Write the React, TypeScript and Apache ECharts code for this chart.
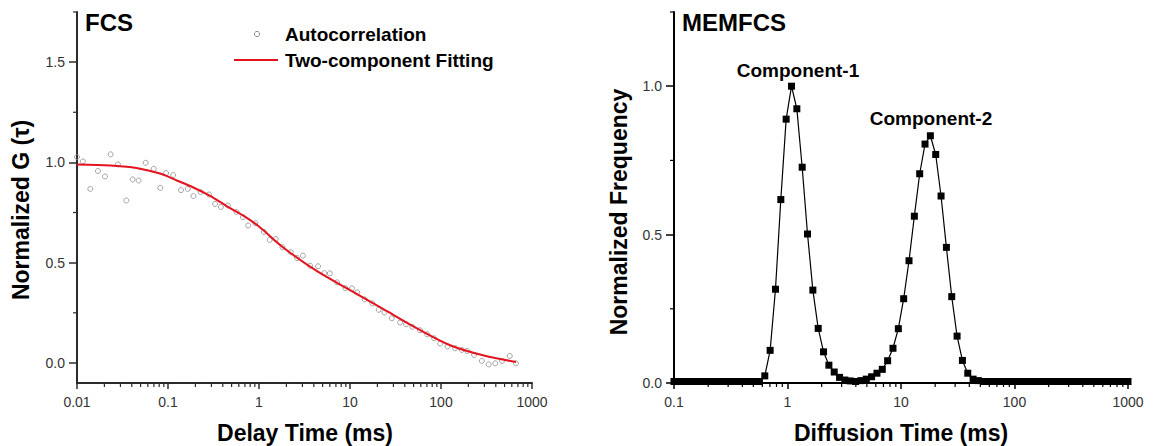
import React, { useEffect, useRef } from "react";
import * as echarts from "echarts";

// ---- FCS autocorrelation data (delay time ms, normalized G) ----
const fcsDelay = [
  0.01, 0.0116, 0.014, 0.017, 0.0203, 0.0234, 0.0282, 0.0348, 0.0409, 0.0476,
  0.0568, 0.0697, 0.0822, 0.0952, 0.114, 0.139, 0.165, 0.19, 0.228, 0.282,
  0.329, 0.381, 0.455, 0.564, 0.666, 0.76, 0.91, 1.13, 1.31, 1.53,
  1.81, 2.24, 2.62, 3.04, 3.64, 4.46, 5.23, 6.0, 7.2, 8.9,
  10.5, 12.0, 14.5, 17.6, 20.7, 23.9, 28.8, 35.5, 41.3, 48.4,
  58.7, 70.5, 84, 98, 118, 143, 169, 194, 231, 281,
  334, 395, 469, 570, 667,
];
const fcsG = [
  1.027, 1.005, 0.868, 0.957, 0.93, 1.04, 0.99, 0.81, 0.915, 0.91,
  0.998, 0.968, 0.873, 0.947, 0.937, 0.862, 0.868, 0.832, 0.852, 0.84,
  0.793, 0.778, 0.785, 0.753, 0.727, 0.685, 0.697, 0.653, 0.613, 0.618,
  0.577, 0.552, 0.523, 0.535, 0.485, 0.482, 0.448, 0.447, 0.402, 0.373,
  0.372, 0.352, 0.317, 0.297, 0.265, 0.252, 0.223, 0.202, 0.193, 0.18,
  0.163, 0.143, 0.123, 0.097, 0.082, 0.073, 0.065, 0.06, 0.04, 0.01,
  -0.007, -0.002, 0.01, 0.035, -0.002,
];

// ---- Two-component fitting curve ----
const fitDelay = [0.01, 0.0232, 0.038, 0.054, 0.085, 0.125, 0.19, 0.29, 0.45, 0.68, 1.0, 1.83, 4.26, 10, 23.3, 54.5, 126, 289, 667];
const fitG = [0.99, 0.985, 0.977, 0.965, 0.942, 0.91, 0.875, 0.833, 0.78, 0.733, 0.68, 0.577, 0.46, 0.363, 0.268, 0.172, 0.088, 0.038, 0.005];

// ---- MEMFCS distribution (diffusion time ms, normalized frequency) ----
const memTime = [
  0.1, 0.11144, 0.12419, 0.1384, 0.15424, 0.17189, 0.19155, 0.21347, 0.2379, 0.26511,
  0.29545, 0.32925, 0.36692, 0.4089, 0.45569, 0.50783, 0.56593, 0.63096, 0.70315, 0.78361,
  0.87327, 0.97328, 1.0846, 1.2087, 1.347, 1.5011, 1.6729, 1.8643, 2.0776, 2.3153,
  2.5803, 2.8755, 3.2045, 3.5711, 3.9811, 4.4366, 4.9443, 5.51, 6.1404, 6.843,
  7.626, 8.4985, 9.4723, 10.556, 11.764, 13.11, 14.61, 16.281, 18.144, 20.22,
  22.534, 25.119, 27.993, 31.196, 34.766, 38.744, 43.177, 48.117, 53.622, 59.757,
  66.595, 74.215, 82.706, 92.17, 102.72, 114.47, 127.57, 142.17, 158.49, 176.62,
  196.83, 219.35, 244.45, 272.42, 303.59, 338.33, 377.04, 420.18, 468.26, 521.84,
  581.55, 648.09, 722.24, 804.88, 896.98, 1000,
];
const memFreq = [
  0.005, 0.005, 0.005, 0.005, 0.005, 0.005, 0.005, 0.005, 0.005, 0.005,
  0.005, 0.005, 0.005, 0.005, 0.005, 0.005, 0.005, 0.024, 0.11, 0.316,
  0.618, 0.889, 1.0, 0.924, 0.727, 0.502, 0.313, 0.184, 0.105, 0.06,
  0.037, 0.019, 0.01, 0.007, 0.005, 0.008, 0.013, 0.021, 0.033, 0.046,
  0.075, 0.117, 0.183, 0.284, 0.412, 0.562, 0.705, 0.805, 0.833, 0.77,
  0.63, 0.457, 0.291, 0.158, 0.076, 0.033, 0.013, 0.008, 0.005, 0.005,
  0.005, 0.005, 0.005, 0.005, 0.005, 0.005, 0.005, 0.005, 0.005, 0.005,
  0.005, 0.005, 0.005, 0.005, 0.005, 0.005, 0.005, 0.005, 0.005, 0.005,
  0.005, 0.005, 0.005, 0.005, 0.005, 0.005,
];

// ---- tick labels ----
const fcsXTicks = [0.01, 0.1, 1, 10, 100, 1000];
const memXTicks = [0.1, 1, 10, 100, 1000];
const fcsYTicks = [0, 0.5, 1.0, 1.5];
const fcsYMinor = [0.25, 0.75, 1.25, 1.75];
const memYTicks = [0, 0.5, 1.0];
const memYMinor = [0.25, 0.75, 1.25];
const minorMult = [2, 3, 4, 5, 6, 7, 8, 9];

const FONT = 'Arial, "Liberation Sans", Helvetica, sans-serif';

function logMinor(majors: number[]) {
  const out: number[] = [];
  for (let i = 0; i < majors.length - 1; i++) {
    for (const m of minorMult) out.push(Number((majors[i] * m).toPrecision(3)));
  }
  return out;
}

const fmtLog = (v: number) => String(Number(Number(v).toPrecision(3)));
const fmtLin = (v: number) => Number(v).toFixed(1);

export default function App() {
  const ref = useRef<HTMLDivElement>(null);
  useEffect(() => {
    if (!ref.current) return;
    const chart = echarts.init(ref.current, undefined, { renderer: "svg" });

    const leftAxisColor = "#2b2b2b";
    const rightAxisColor = "#000";
    const labelStyle = { fontFamily: FONT, fontSize: 14, color: "#333" };

    const xAx = (gi: number, min: number, max: number, majors: number[], color: string) => ({
      type: "log", logBase: 10, gridIndex: gi, min, max,
      axisLine: { show: true, onZero: false, lineStyle: { color, width: 2 } },
      axisTick: { show: true, customValues: majors, length: 6, lineStyle: { color, width: 1.5 } },
      axisLabel: { show: true, customValues: majors, formatter: fmtLog, margin: 12, ...labelStyle },
      splitLine: { show: false },
    });
    const yAx = (gi: number, min: number, max: number, majors: number[], color: string) => ({
      type: "value", gridIndex: gi, min, max,
      axisLine: { show: true, onZero: false, lineStyle: { color, width: 2 } },
      axisTick: { show: true, customValues: majors, length: 8, lineStyle: { color, width: 1.5 } },
      axisLabel: { show: true, customValues: majors, formatter: fmtLin, margin: 12, ...labelStyle },
      splitLine: { show: false },
    });

    const txt = (text: string, x: number, y: number, size: number, align = "left", rotation = 0) => ({
      type: "text",
      x, y, rotation,
      style: {
        text, font: `bold ${size}px ${FONT}`, fill: "#000",
        align, textAlign: align, verticalAlign: "middle", textVerticalAlign: "middle",
      },
    });

    const baseGraphics: any[] = [
      txt("FCS", 85, 22, 24),
      txt("MEMFCS", 682, 22, 24),
      txt("Component-1", 798, 70, 19, "center"),
      txt("Component-2", 931, 118, 19, "center"),
      {
        type: "circle",
        shape: { cx: 257, cy: 34, r: 2.6 },
        style: { fill: "#fff", stroke: "#8c8c8c", lineWidth: 1 },
      },
      txt("Autocorrelation", 285, 34, 19),
      {
        type: "line",
        shape: { x1: 234, y1: 60, x2: 278, y2: 60 },
        style: { stroke: "#e3141e", lineWidth: 2 },
      },
      txt("Two-component Fitting", 285, 60, 19),
      txt("Delay Time (ms)", 305, 433, 23, "center"),
      txt("Diffusion Time (ms)", 901, 433, 23, "center"),
      txt("Normalized G (\u03C4)", 21, 210, 23, "center", Math.PI / 2),
      txt("Normalized Frequency", 619, 212, 23, "center", Math.PI / 2),
    ];

    chart.setOption({
      animation: false,
      backgroundColor: "#fff",
      grid: [
        { left: 77, top: 12, width: 455, height: 371 },
        { left: 674, top: 12, width: 454, height: 371 },
      ],
      xAxis: [xAx(0, 0.01, 1000, fcsXTicks, leftAxisColor), xAx(1, 0.1, 1000, memXTicks, rightAxisColor)],
      yAxis: [yAx(0, -0.1, 1.75, fcsYTicks, leftAxisColor), yAx(1, 0, 1.25, memYTicks, rightAxisColor)],
      series: [
        {
          name: "Autocorrelation",
          type: "scatter",
          xAxisIndex: 0, yAxisIndex: 0,
          symbol: "circle",
          symbolSize: 5,
          itemStyle: { color: "rgba(255,255,255,0)", borderColor: "#8c8c8c", borderWidth: 1 },
          data: fcsDelay.map((t, i) => [t, fcsG[i]]),
          z: 2,
        },
        {
          name: "Two-component Fitting",
          type: "line",
          xAxisIndex: 0, yAxisIndex: 0,
          smooth: 0.3,
          showSymbol: false,
          symbol: "none",
          lineStyle: { color: "#e3141e", width: 2 },
          data: fitDelay.map((t, i) => [t, fitG[i]]),
          z: 3,
        },
        {
          name: "MEMFCS",
          type: "line",
          xAxisIndex: 1, yAxisIndex: 1,
          symbol: "rect",
          symbolSize: 7,
          showAllSymbol: true,
          lineStyle: { color: "#000", width: 1.2 },
          itemStyle: { color: "#000" },
          data: memTime.map((t, i) => [t, memFreq[i]]),
          z: 3,
        },
      ],
      graphic: baseGraphics,
    });

    // minor ticks placed through the chart's own scales
    const minorGraphics: any[] = [];
    const seg = (x1: number, y1: number, x2: number, y2: number, color: string) =>
      minorGraphics.push({ type: "line", shape: { x1, y1, x2, y2 }, style: { stroke: color, lineWidth: 1.2 }, z: 10 });
    const drawMinor = (gi: number, xmin: number, ymin: number, xMaj: number[], yMin: number[], color: string) => {
      const p = (x: number, y: number) => chart.convertToPixel({ gridIndex: gi } as any, [x, y]) as number[];
      const [x0, yb] = p(xmin, ymin);
      logMinor(xMaj).forEach((v) => { const [x] = p(v, ymin); seg(x, yb, x, yb + 4, color); });
      yMin.forEach((v) => { const [, y] = p(xmin, v); seg(x0, y, x0 - 4, y, color); });
    };
    drawMinor(0, 0.01, -0.1, fcsXTicks, fcsYMinor, leftAxisColor);
    drawMinor(1, 0.1, 0, memXTicks, memYMinor, rightAxisColor);

    chart.setOption({ graphic: [...baseGraphics, ...minorGraphics] });

    return () => chart.dispose();
  }, []);
  return (
    <div
      ref={ref}
      style={{ position: "fixed", left: 0, top: 0, width: 1153, height: 446, background: "#fff" }}
    />
  );
}
